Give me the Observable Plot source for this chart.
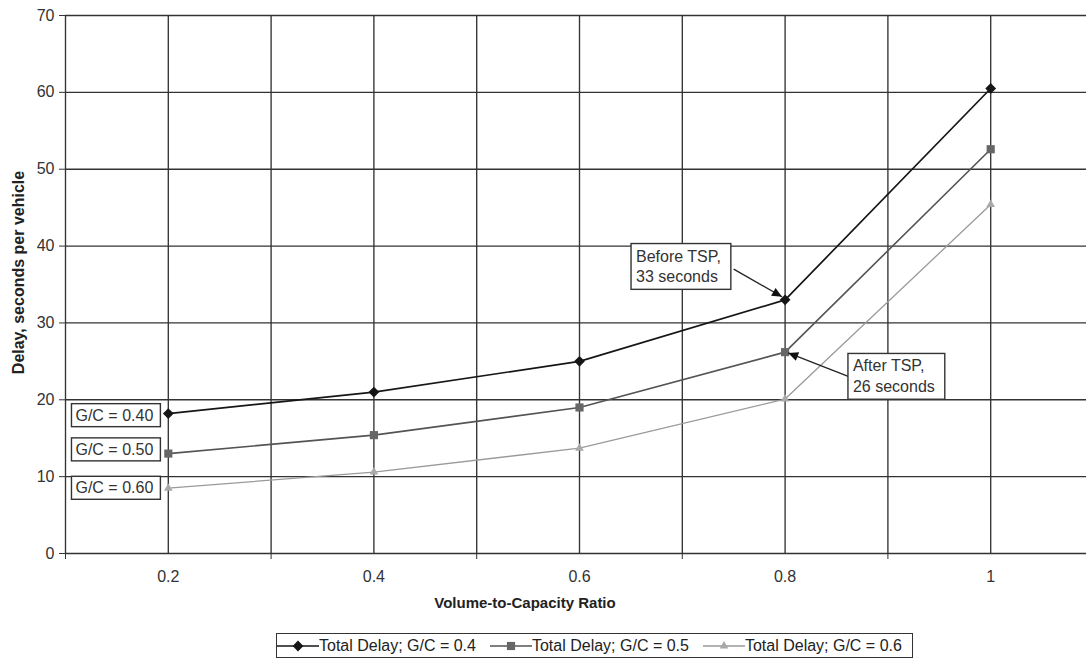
<!DOCTYPE html>
<html>
<head>
<meta charset="utf-8">
<script src="https://cdn.jsdelivr.net/npm/d3@7"></script>
<script src="https://cdn.jsdelivr.net/npm/@observablehq/plot@0.6"></script>
<style>
  body { margin: 0; background: #fff; font-family: "Liberation Sans", Arial, sans-serif; }
  #legend { box-sizing: border-box; margin-top: 8px; margin-left: 276px; height: 25px; border: 1.5px solid #333;
            display: inline-flex; align-items: center; font-size: 16px; color: #222; padding-right: 10px; }
  #legend .item { display: flex; align-items: center; }
  #legend svg { display: block; }
</style>
</head>
<body>
<div id="chart"></div>
<div id="legend"></div>
<script>
// ---- data ----
const xCats = [0.2, 0.4, 0.6, 0.8, 1];
const xTickLabels = ["0.2", "0.4", "0.6", "0.8", "1"];
const yTickValues = [0, 10, 20, 30, 40, 50, 60, 70];
const yTickLabels = ["0", "10", "20", "30", "40", "50", "60", "70"];
const xGrid = [0.1, 0.2, 0.3, 0.4, 0.5, 0.6, 0.7, 0.8, 0.9, 1.0];
const xBoundaryTicks = [0.1, 0.3, 0.5, 0.7, 0.9];

const seriesNames = ["Total Delay; G/C = 0.4", "Total Delay; G/C = 0.5", "Total Delay; G/C = 0.6"];
const delayGC40 = [18.2, 21.0, 25.0, 33.0, 60.5];
const delayGC50 = [13.0, 15.4, 19.0, 26.2, 52.6];
const delayGC60 = [8.5, 10.6, 13.7, 20.1, 45.4];

const gcLabels = ["G/C = 0.40", "G/C = 0.50", "G/C = 0.60"];
const gcLabelY = [17.95, 13.5, 8.5];

const annotationTexts = ["Before TSP,\n33 seconds", "After TSP,\n26 seconds"];
const annotationX = [0.655, 0.866];
const annotationY = [37.5, 23.2];
const arrowX1 = [0.750, 0.862];
const arrowY1 = [37.0, 23.0];
const arrowX2 = [0.797, 0.803];
const arrowY2 = [33.4, 26.1];

// ---- styles ----
const seriesStyles = [
  {stroke: "#161616", fill: "#161616", symbol: "square", rotate: 45, r: 4.3, width: 1.7},
  {stroke: "#545454", fill: "#666666", symbol: "square", rotate: 0, r: 4.6, width: 1.6},
  {stroke: "#9a9a9a", fill: "#a8a8a8", symbol: "triangle", rotate: 0, r: 3.2, width: 1.3}
];

const allSeries = [delayGC40, delayGC50, delayGC60];
const rows = allSeries.map((vals, s) => xCats.map((x, i) => ({x, y: vals[i], s})));

const gcRows = gcLabels.map((t, i) => ({t, x: xCats[0], y: gcLabelY[i]}));
const annRows = annotationTexts.map((t, i) => ({t, x: annotationX[i], y: annotationY[i]}));
const arrowRows = arrowX1.map((x1, i) => ({x1, y1: arrowY1[i], x2: arrowX2[i], y2: arrowY2[i]}));

function filledArrow(color, context) {
  const m = d3.create("svg:marker")
    .attr("viewBox", "-10 -5 10 10")
    .attr("markerWidth", 12)
    .attr("markerHeight", 10)
    .attr("markerUnits", "userSpaceOnUse")
    .attr("orient", "auto")
    .attr("refX", 0).attr("refY", 0);
  m.append("path").attr("d", "M-10,-4.5L0,0L-10,4.5Z").attr("fill", "#111").attr("stroke", "none");
  return m.node();
}

const marks = [
  Plot.ruleX(xGrid, {stroke: "#333", strokeWidth: 1.35}),
  Plot.ruleY(yTickValues, {stroke: "#333", strokeWidth: 1.35}),
  Plot.axisY({ticks: yTickValues, tickSize: 6, tickPadding: 5, tickFormat: (d, i) => yTickLabels[i],
              fontSize: 16, stroke: "#333", fill: "#333", label: null}),
  Plot.axisX({ticks: xBoundaryTicks, tickSize: 6, tickFormat: () => "", stroke: "#333", label: null}),
  Plot.axisX({ticks: xCats, tickSize: 0, tickPadding: 17, tickFormat: (d, i) => xTickLabels[i],
              fontSize: 16, fill: "#333", label: null})
];
rows.forEach((r, s) => {
  const st = seriesStyles[s];
  marks.push(Plot.line(r, {x: "x", y: "y", stroke: st.stroke, strokeWidth: st.width}));
});
rows.forEach((r, s) => {
  const st = seriesStyles[s];
  marks.push(Plot.dot(r, {x: "x", y: "y", symbol: st.symbol, rotate: st.rotate, r: st.r, fill: st.fill, stroke: "none"}));
});
marks.push(
  Plot.link(arrowRows, {x1: "x1", y1: "y1", x2: "x2", y2: "y2", stroke: "#222", strokeWidth: 1.3, markerEnd: filledArrow}),
  Plot.text(gcRows, {x: "x", y: "y", text: "t", textAnchor: "end", dx: -15, fontSize: 16, fill: "#333",
                     ariaDescription: "boxed-gc"}),
  Plot.text(annRows, {x: "x", y: "y", text: "t", textAnchor: "start", lineAnchor: "middle", lineHeight: 1.3,
                      fontSize: 16, fill: "#333", ariaDescription: "boxed-ann"}),
  Plot.text(["Delay, seconds per vehicle"], {frameAnchor: "left", textAnchor: "middle", lineAnchor: "middle",
             rotate: -90, dx: -47, dy: -12, fontSize: 16, fontWeight: "bold", fill: "#222"}),
  Plot.text(["Volume-to-Capacity Ratio"], {frameAnchor: "bottom", textAnchor: "middle", lineAnchor: "middle",
             dx: -51, dy: 50, fontSize: 15, fontWeight: "bold", fill: "#222"})
);

const chart = Plot.plot({
  width: 1086,
  height: 625,
  marginTop: 15,
  marginBottom: 72,
  marginLeft: 65,
  marginRight: 0,
  x: {domain: [0.1, 1.1], range: [65, 1093]},
  y: {domain: [0, 70]},
  style: {fontFamily: "'Liberation Sans', Arial, sans-serif", fontSize: "16px", background: "#fff", overflow: "hidden"},
  marks
});
document.getElementById("chart").appendChild(chart);

function addBoxes(svg, label, pad) {
  svg.querySelectorAll(`g[aria-description="${label}"] text`).forEach(t => {
    const b = t.getBBox();
    const r = document.createElementNS("http://www.w3.org/2000/svg", "rect");
    r.setAttribute("x", b.x - pad.l);
    r.setAttribute("y", b.y - pad.t);
    r.setAttribute("width", b.width + pad.l + pad.r);
    r.setAttribute("height", b.height + pad.t + pad.b);
    r.setAttribute("fill", "#fff");
    r.setAttribute("stroke", "#333");
    r.setAttribute("stroke-width", "1.4");
    if (t.getAttribute("transform")) r.setAttribute("transform", t.getAttribute("transform"));
    t.parentNode.insertBefore(r, t);
  });
}
addBoxes(chart, "boxed-gc", {l: 4, r: 7, t: 3, b: 3});
addBoxes(chart, "boxed-ann", {l: 5, r: 10, t: 4, b: 4});

// ---- legend ----
const legend = document.getElementById("legend");
seriesNames.forEach((name, i) => {
  const st = seriesStyles[i];
  const item = document.createElement("div");
  item.className = "item";
  const sw = d3.create("svg").attr("width", 42).attr("height", 16);
  sw.append("line").attr("x1", 0).attr("x2", 42).attr("y1", 8).attr("y2", 8)
    .attr("stroke", st.stroke).attr("stroke-width", st.width);
  const sym = {square: d3.symbolSquare, triangle: d3.symbolTriangle}[st.symbol];
  sw.append("path").attr("transform", `translate(21,8) rotate(${st.rotate})`)
    .attr("d", d3.symbol(sym, Math.PI * st.r * st.r)()).attr("fill", st.fill);
  item.appendChild(sw.node());
  const span = document.createElement("span");
  span.textContent = name;
  span.style.marginRight = i < seriesNames.length - 1 ? "14px" : "0";
  item.appendChild(span);
  legend.appendChild(item);
});
</script>
</body>
</html>
